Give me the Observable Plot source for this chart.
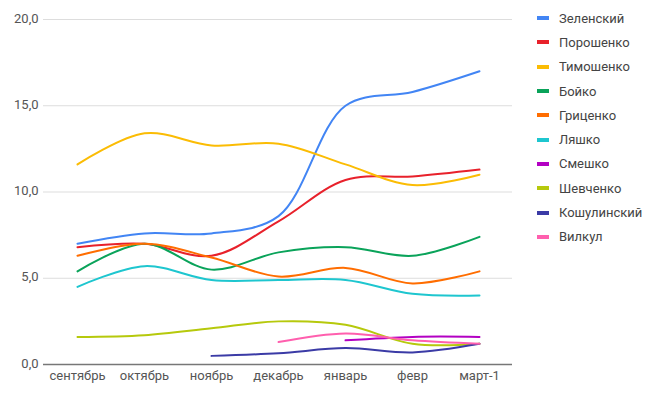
<!DOCTYPE html>
<html>
<head>
<meta charset="utf-8">
<script src="https://cdn.jsdelivr.net/npm/d3@7"></script>
<script src="https://cdn.jsdelivr.net/npm/@observablehq/plot@0.6"></script>
<style>
  html, body { margin: 0; padding: 0; background: #fff; }
  #wrap { position: relative; width: 652px; height: 396px; font-family: Roboto, "Noto Sans", sans-serif; }
  #legend { position: absolute; left: 537px; top: 6px; font-size: 13px; color: #444; }
  .item { display: flex; align-items: center; height: 24.3px; white-space: nowrap; }
  .sw { width: 12px; height: 4px; margin-right: 10px; }
</style>
</head>
<body>
<div id="wrap"><div id="chart"></div><div id="legend"></div></div>
<script>
const months = ["сентябрь", "октябрь", "ноябрь", "декабрь", "январь", "февр", "март-1"];
const names = ["Зеленский", "Порошенко", "Тимошенко", "Бойко", "Гриценко", "Ляшко", "Смешко", "Шевченко", "Кошулинский", "Вилкул"];
const colors = ["#4285f4", "#e8212b", "#fbbc04", "#0aa35a", "#ff6d00", "#1ec6cf", "#b300c3", "#b6c90c", "#3b3ba6", "#ff5fae"];
const zelensky   = [7.0, 7.6, 7.6, 8.6, 15.0, 15.8, 17.0];
const poroshenko = [6.8, 7.0, 6.3, 8.3, 10.7, 10.9, 11.3];
const tymoshenko = [11.6, 13.4, 12.7, 12.8, 11.6, 10.4, 11.0];
const boyko      = [5.4, 7.0, 5.5, 6.5, 6.8, 6.3, 7.4];
const hrytsenko  = [6.3, 7.0, 6.2, 5.1, 5.6, 4.7, 5.4];
const lyashko    = [4.5, 5.7, 4.9, 4.9, 4.9, 4.1, 4.0];
const smeshko    = [null, null, null, null, 1.4, 1.6, 1.6];
const shevchenko = [1.6, 1.7, 2.1, 2.5, 2.3, 1.2, 1.2];
const koshulynsky= [null, null, 0.5, 0.65, 0.95, 0.7, 1.2];
const vilkul     = [null, null, null, 1.3, 1.8, 1.4, 1.2];
const yTicks = [0, 5, 10, 15, 20];

const series = [zelensky, poroshenko, tymoshenko, boyko, hrytsenko, lyashko, smeshko, shevchenko, koshulynsky, vilkul];
const data = [];
series.forEach((vals, i) => vals.forEach((v, j) => {
  if (v != null) data.push({name: names[i], month: months[j], value: v});
}));

const fmt = d => d3.format(".1f")(d).replace(".", ",");

const plot = Plot.plot({
  width: 530,
  height: 396,
  marginLeft: 43,
  marginRight: 18,
  marginTop: 19,
  marginBottom: 32,
  style: {fontFamily: "Roboto, 'Noto Sans', sans-serif", fontSize: "13px", color: "#555", background: "#fff"},
  x: {type: "point", domain: months, padding: 0.5, label: null},
  y: {domain: [0, 20], ticks: yTicks, label: null, tickFormat: fmt},
  color: {domain: names, range: colors},
  marks: [
    Plot.gridY(yTicks, {stroke: "#ddd", strokeOpacity: 1, strokeWidth: 1}),
    Plot.axisY(yTicks, {tickSize: 0, tickPadding: 5, fill: "#555", tickFormat: fmt, fontSize: 13, dy: -1}),
    Plot.axisX({tickSize: 0, tickPadding: 6, fill: "#555", fontSize: 13}),
    Plot.ruleY([0], {stroke: "#777", strokeWidth: 1.5}),
    Plot.line(data, {x: "month", y: "value", z: "name", stroke: "name", strokeWidth: 2, curve: "catmull-rom"})
  ]
});
document.getElementById("chart").appendChild(plot);

const legend = document.getElementById("legend");
names.forEach((n, i) => {
  const it = document.createElement("div");
  it.className = "item";
  const sw = document.createElement("div");
  sw.className = "sw";
  sw.style.background = colors[i];
  const t = document.createElement("span");
  t.textContent = n;
  it.appendChild(sw); it.appendChild(t);
  legend.appendChild(it);
});
</script>
</body>
</html>
